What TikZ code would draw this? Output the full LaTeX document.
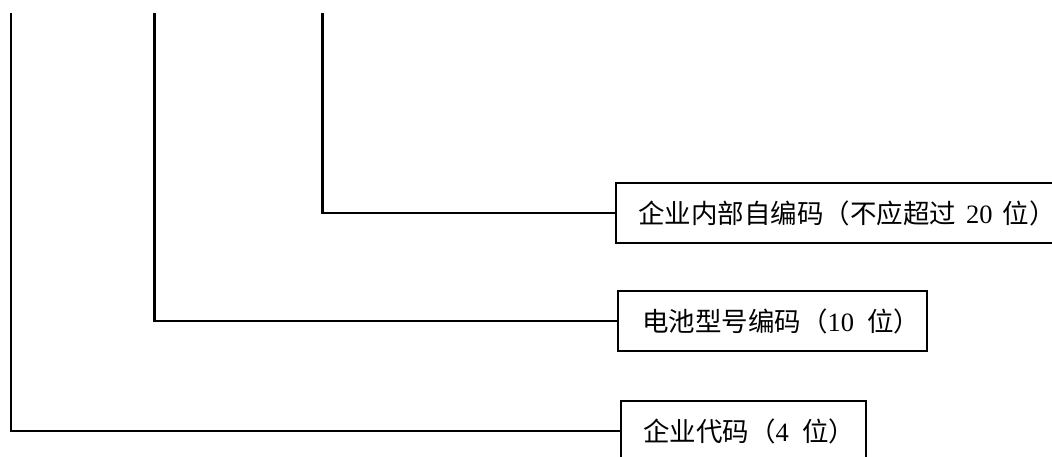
\documentclass[tikz,border=0pt]{standalone}
\usepackage{fontspec}
\setmainfont{Liberation Serif}
\newfontfamily\cjk{Noto Sans CJK SC}
\begin{document}
\begin{tikzpicture}[x=1pt,y=-1pt,
  codebox/.style={draw=black, line width=2.2pt, anchor=north west, minimum height=60pt,
    inner ysep=0pt, font=\fontsize{26.5}{30}\selectfont},
  conn/.style={draw=black, line width=2.2pt}]
\useasboundingbox (0,0) rectangle (1052,456);
\node[codebox, inner xsep=22pt] (b1) at (615,182)
  {\makebox[411pt][l]{{\cjk 企业内部自编码（不应超过}\hspace{10pt}20\hspace{10pt}{\cjk 位）}}};
\node[codebox, inner xsep=24pt] (b2) at (617,290)
  {\makebox[261pt][l]{{\cjk 电池型号编码（}10\ \ {\cjk 位）}}};
\node[codebox, inner xsep=22pt] (b3) at (620,400)
  {\makebox[201pt][l]{{\cjk 企业代码（}4\ \ {\cjk 位）}}};
\coordinate (t1) at (11,13);
\coordinate (t2) at (154.5,13);
\coordinate (t3) at (322.5,13);
\draw[conn] (t1) |- (b3.west);
\draw[conn] (t2) |- (b2.west);
\draw[conn] (t3) |- (b1.west);
\end{tikzpicture}
\end{document}
